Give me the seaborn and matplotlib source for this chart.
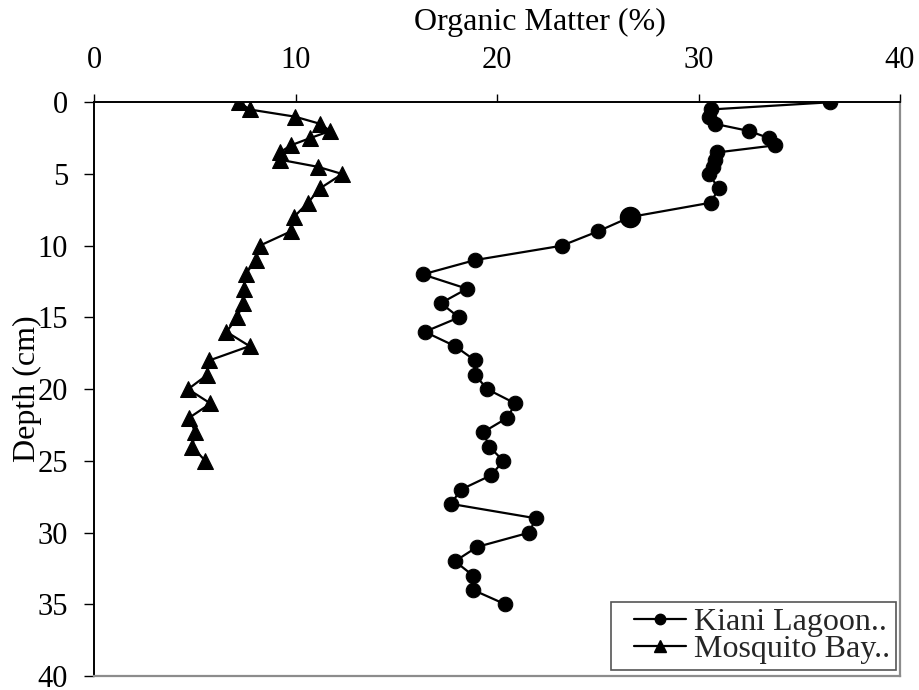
import matplotlib
matplotlib.use("Agg")
import matplotlib.pyplot as plt
import seaborn as sns
import pandas as pd
from matplotlib.lines import Line2D
from matplotlib.legend_handler import HandlerLine2D

# ---- data ----
kiani_depth = [0, 0.5, 1, 1.5, 2, 2.5, 3, 3.5, 4, 4.5, 5, 6, 7, 8, 9, 10, 11, 12, 13, 14,
               15, 16, 17, 18, 19, 20, 21, 22, 23, 24, 25, 26, 27, 28, 29, 30, 31, 32,
               33, 34, 35]
kiani_om = [36.5, 30.6, 30.5, 30.8, 32.5, 33.5, 33.8, 30.9, 30.8, 30.7, 30.5, 31.0, 30.6,
            26.6, 25.0, 23.2, 18.9, 16.3, 18.5, 17.2, 18.1, 16.4, 17.9, 18.9, 18.9, 19.5,
            20.9, 20.5, 19.3, 19.6, 20.3, 19.7, 18.2, 17.7, 21.9, 21.6, 19.0, 17.9, 18.8,
            18.8, 20.4]
mosq_depth = [0, 0.5, 1, 1.5, 2, 2.5, 3, 3.5, 4, 4.5, 5, 6, 7, 8, 9, 10, 11, 12, 13, 14,
              15, 16, 17, 18, 19, 20, 21, 22, 23, 24, 25]
mosq_om = [7.2, 7.7, 9.95, 11.2, 11.7, 10.7, 9.75, 9.2, 9.2, 11.1, 12.3, 11.2, 10.6, 9.9,
           9.75, 8.2, 8.0, 7.5, 7.4, 7.35, 7.1, 6.55, 7.7, 5.7, 5.6, 4.65, 5.76, 4.7, 5.0,
           4.85, 5.5]
series_names = ["Kiani Lagoon..", "Mosquito Bay.."]
highlight_depth = 8
x_ticks = [0, 10, 20, 30, 40]
y_ticks = [0, 5, 10, 15, 20, 25, 30, 35, 40]
x_label = "Organic Matter (%)"
y_label = "Depth (cm)"

df_k = pd.DataFrame({"om": kiani_om, "depth": kiani_depth})
df_m = pd.DataFrame({"om": mosq_om, "depth": mosq_depth})

sns.set_theme(style="white")
plt.rcParams["font.family"] = ["Liberation Serif", "DejaVu Serif"]
FS_TICK = 22
FS_LAB = 23

W, H = 920, 690
fig = plt.figure(figsize=(W / 100, H / 100), dpi=100)
left, right, top, bottom = 94.5, 900, 102.3, 676
ax = fig.add_axes([left / W, (H - bottom) / H, (right - left) / W, (bottom - top) / H])

sns.lineplot(data=df_k, x="om", y="depth", orient="y", sort=False, estimator=None,
             color="black", linewidth=1.6, marker="o", markersize=10.5,
             markeredgecolor="black", markerfacecolor="black", ax=ax, zorder=3)
sns.lineplot(data=df_m, x="om", y="depth", orient="y", sort=False, estimator=None,
             color="black", linewidth=1.6, marker="^", markersize=11,
             markeredgecolor="black", markerfacecolor="black", ax=ax, zorder=3)
# enlarged marker at one sample (as in the original)
hi = df_k[df_k["depth"] == highlight_depth]
ax.plot(hi["om"], hi["depth"], "o", color="black", markersize=14.5, zorder=4)

ax.set_xlim(0, 40)
ax.set_ylim(40, 0)
ax.set_xticks(x_ticks)
ax.set_yticks(y_ticks)
ax.xaxis.tick_top()
ax.xaxis.set_label_position("top")
ax.tick_params(axis="x", which="both", direction="out", length=6, width=1,
               color="black", pad=14, labelsize=FS_TICK, labelcolor="black",
               top=True, bottom=False)
ax.tick_params(axis="y", which="both", direction="out", length=7, width=1,
               color="black", pad=12, labelsize=FS_TICK, labelcolor="black", left=True)
ax.grid(False)

for s in ["top", "left"]:
    ax.spines[s].set_color("black")
    ax.spines[s].set_linewidth(1.4)
for s in ["right", "bottom"]:
    ax.spines[s].set_color("#8c8c8c")
    ax.spines[s].set_linewidth(1.6)

ax.set_xlabel(x_label, fontsize=FS_LAB, color="black")
ax.xaxis.set_label_coords((540 - left) / (right - left), (bottom - 22) / (bottom - top))
ax.xaxis.label.set_va("center")
ax.set_ylabel(y_label, fontsize=FS_LAB, color="black")
ax.yaxis.set_label_coords((27 - left) / (right - left), 0.5)
ax.yaxis.label.set_va("center")

handles = [Line2D([], [], color="black", linewidth=1.6, marker="o", markersize=7.5),
           Line2D([], [], color="black", linewidth=1.6, marker="^", markersize=8)]
hmap = {h: HandlerLine2D(xpad=0.55) for h in handles}
leg = ax.legend(handles, series_names, loc="lower left",
                bbox_to_anchor=((611 - left) / (right - left), (bottom - 670) / (bottom - top)),
                fontsize=FS_LAB, frameon=True, fancybox=False, shadow=False,
                handler_map=hmap,
                handlelength=2.18, handletextpad=0.25, labelspacing=-0.07,
                borderpad=0.18, borderaxespad=0.0, framealpha=1)
leg.get_frame().set_edgecolor("#555555")
leg.get_frame().set_linewidth(1.2)

fig.savefig("out.png", dpi=100)
